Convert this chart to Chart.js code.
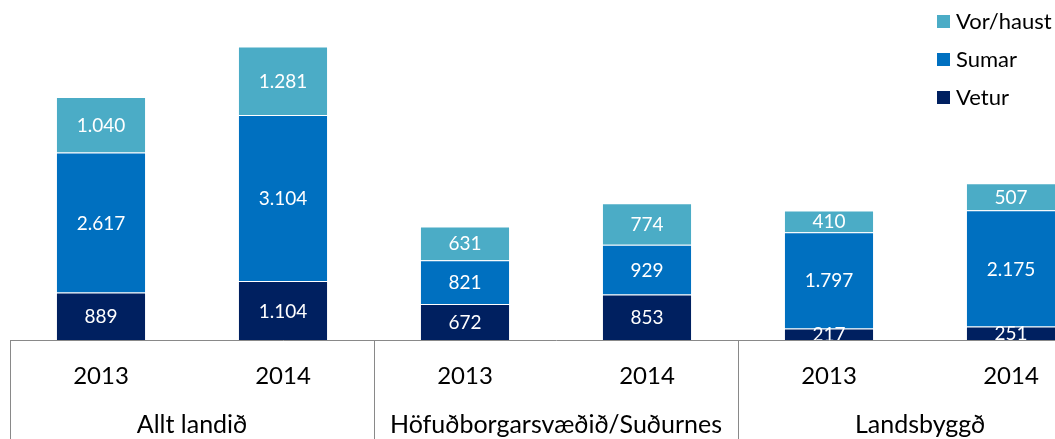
<!DOCTYPE html>
<html>
<head>
<meta charset="utf-8">
<script src="https://cdn.jsdelivr.net/npm/chart.js@4"></script>
<style>
  html, body { margin: 0; padding: 0; background: #fff; overflow: hidden; }
  #wrap { width: 1102px; height: 439px; position: relative; }
</style>
</head>
<body>
<div id="wrap"><canvas id="chart"></canvas></div>
<script>
// Year under each bar
const years = ['2013', '2014', '2013', '2014', '2013', '2014'];

// Group labels (two bars each)
const groups = ['Allt landið', 'Höfuðborgarsvæðið/Suðurnes', 'Landsbyggð'];

// Series values
const vetur = [889, 1104, 672, 853, 217, 251];
const sumar = [2617, 3104, 821, 929, 1797, 2175];
const vorHaust = [1040, 1281, 631, 774, 410, 507];

// top of the value axis
const yMax = 6360;

function fmt(v) {
    return String(v).replace(/\B(?=(\d{3})+(?!\d))/g, '.');
}

Chart.defaults.font.family = 'Lato';

// White value labels in the middle of each segment
const valueLabels = {
    id: 'valueLabels',
    afterDatasetsDraw(chart) {
        const ctx = chart.ctx;
        const area = chart.chartArea;
        ctx.save();
        ctx.beginPath();
        ctx.rect(area.left, area.top, area.right - area.left, area.bottom - area.top);
        ctx.clip();
        ctx.fillStyle = '#fff';
        ctx.font = '19px Lato';
        ctx.textAlign = 'center';
        ctx.textBaseline = 'middle';
        chart.data.datasets.forEach((ds, di) => {
            chart.getDatasetMeta(di).data.forEach((bar, i) => {
                const y = (bar.y + bar.base) / 2;
                ctx.fillText(fmt(ds.data[i]), bar.x, y + 1);
            });
        });
        ctx.restore();
    }
};

// Group labels and separators under the axis, plus the legend
const extras = {
    id: 'extras',
    afterDraw(chart) {
        const ctx = chart.ctx;
        const x = chart.scales.x;
        const h = chart.height;
        ctx.save();

        // separators
        ctx.strokeStyle = '#898989';
        ctx.lineWidth = 1;
        const step = x.width / years.length;
        for (let g = 0; g <= groups.length; g++) {
            const px = Math.round(x.left + g * 2 * step) + 0.5;
            ctx.beginPath();
            ctx.moveTo(px, x.top);
            ctx.lineTo(px, h);
            ctx.stroke();
        }

        // group names
        ctx.fillStyle = '#000';
        ctx.font = '25px Lato';
        ctx.textAlign = 'center';
        ctx.textBaseline = 'middle';
        groups.forEach((name, g) => {
            const cx = (x.getPixelForValue(2 * g) + x.getPixelForValue(2 * g + 1)) / 2;
            ctx.fillText(name, cx, 425);
        });

        // legend, top series first
        ctx.font = '22px Lato';
        ctx.textAlign = 'left';
        const sets = chart.data.datasets.slice().reverse();
        sets.forEach((ds, k) => {
            const cy = 22 + k * 38;
            ctx.fillStyle = ds.backgroundColor;
            ctx.fillRect(937, cy - 7, 13, 13);
            ctx.fillStyle = '#000';
            ctx.fillText(ds.label, 956, cy);
        });
        ctx.restore();
    }
};

new Chart(document.getElementById('chart'), {
    type: 'bar',
    data: {
        labels: years,
        datasets: [
            { label: 'Vetur', data: vetur, backgroundColor: '#002060' },
            { label: 'Sumar', data: sumar, backgroundColor: '#0070C0' },
            { label: 'Vor/haust', data: vorHaust, backgroundColor: '#4BACC6' },
        ],
    },
    options: {
        responsive: true,
        maintainAspectRatio: false,
        animation: false,
        datasets: {
            bar: {
                categoryPercentage: 1,
                barPercentage: 0.495,
                borderWidth: 1,
                borderColor: 'rgba(255,255,255,0.2)',
            },
        },
        layout: { padding: { left: 10, right: 0, top: 0, bottom: 0 } },
        plugins: {
            legend: { display: false },
            tooltip: { enabled: false },
        },
        scales: {
            x: {
                stacked: true,
                grid: { display: false, drawTicks: false },
                border: { display: true, color: '#898989', width: 1 },
                ticks: {
                    color: '#000',
                    font: { size: 24 },
                    padding: 22,
                    maxRotation: 0,
                    autoSkip: false,
                },
                afterFit(scale) { scale.height = 99; },
            },
            y: {
                stacked: true,
                display: false,
                min: 0,
                max: yMax,
            },
        },
    },
    plugins: [valueLabels, extras],
});
</script>
</body>
</html>
